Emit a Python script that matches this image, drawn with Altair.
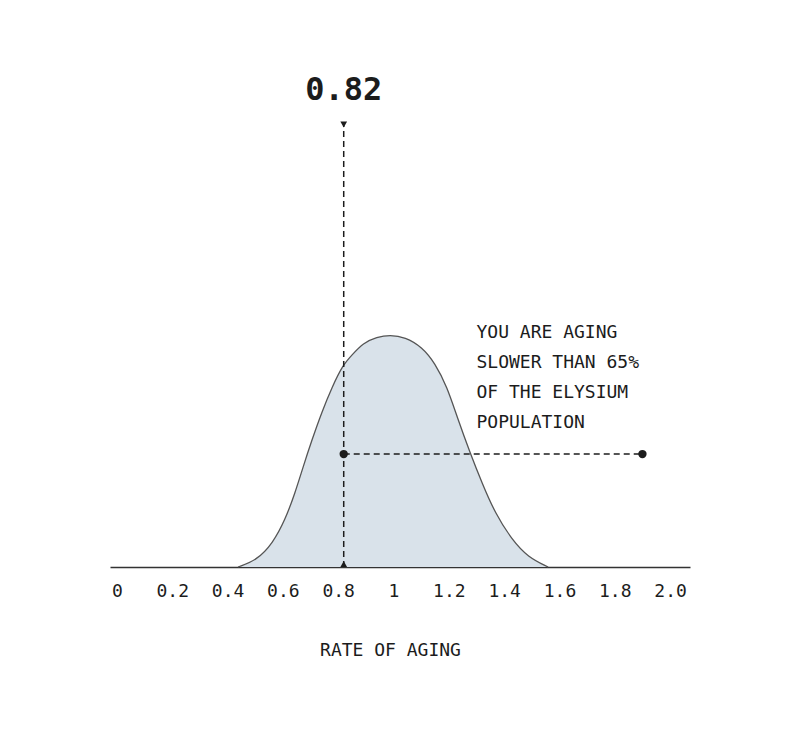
import altair as alt
import pandas as pd

# Distribution curve (rate of aging vs relative density)
curve_x = [0.438, 0.506, 0.564, 0.608, 0.644, 0.673, 0.705, 0.741, 0.778, 0.817, 0.850,
           0.890, 0.940, 0.987, 1.042, 1.103, 1.150, 1.194, 1.230, 1.277, 1.320, 1.367,
           1.429, 1.486, 1.559]
curve_y = [0.000, 0.030, 0.104, 0.204, 0.321, 0.434, 0.551, 0.673, 0.781, 0.877, 0.920,
           0.972, 0.998, 1.007, 0.998, 0.955, 0.885, 0.781, 0.651, 0.495, 0.365, 0.234,
           0.117, 0.043, 0.000]

# Tick values
tick_values = [0, 0.2, 0.4, 0.6, 0.8, 1.0, 1.2, 1.4, 1.6, 1.8, 2.0]

# Marker / annotation values
user_rate = 0.82
user_label = "0.82"
marker_top = 1.92
percentile_level = 0.49
percentile_end = 1.90
label_level = 2.07
note_x = 1.30
note_level = 1.015
note_lines = ["YOU ARE AGING", "SLOWER THAN 65%", "OF THE ELYSIUM", "POPULATION"]
x_title = "RATE OF AGING"

FONT = "DejaVu Sans Mono"
INK = "#1c1c1c"

curve = pd.DataFrame({"x": curve_x, "y": curve_y})

xscale = alt.Scale(domain=[-0.025, 2.072], nice=False, zero=False)
yscale = alt.Scale(domain=[0, 2.2], nice=False)

xaxis = alt.Axis(
    values=tick_values,
    labelExpr="datum.value == 0 ? '0' : datum.value == 1 ? '1' : format(datum.value, '.1f')",
    ticks=False, grid=False,
    domain=True, domainColor="#333333", domainWidth=1.6,
    labelFont=FONT, labelFontSize=18, labelColor=INK, labelPadding=15,
    labelFlush=False, labelOverlap=False,
    title=x_title, titleFont=FONT, titleFontSize=18, titleFontWeight="normal",
    titleColor=INK, titlePadding=41, titleX=280, titleAnchor="start", titleAlign="center",
)

area = alt.Chart(curve).mark_area(
    color="#d9e2ea", opacity=1, fillOpacity=1, interpolate="basis",
    line={"color": "#555555", "strokeWidth": 1.3},
).encode(
    x=alt.X("x:Q", scale=xscale, axis=xaxis),
    y=alt.Y("y:Q", scale=yscale, axis=None),
)

mk = pd.DataFrame({"x": [user_rate], "y0": [0.0], "y1": [marker_top],
                   "yp": [percentile_level], "x2": [percentile_end],
                   "yl": [label_level], "lab": [user_label]})

vrule = alt.Chart(mk).mark_rule(color=INK, strokeWidth=1.5, strokeDash=[6, 4]).encode(
    x=alt.X("x:Q", scale=xscale), y=alt.Y("y0:Q", scale=yscale), y2="y1:Q")

hrule = alt.Chart(mk).mark_rule(color=INK, strokeWidth=1.5, strokeDash=[6, 4]).encode(
    x=alt.X("x:Q", scale=xscale), x2="x2:Q", y=alt.Y("yp:Q", scale=yscale))

tri_top = alt.Chart(mk).mark_point(shape="triangle-down", filled=True, color=INK,
                                   size=45, opacity=1).encode(
    x=alt.X("x:Q", scale=xscale), y=alt.Y("y1:Q", scale=yscale))

tri_bot = alt.Chart(mk).mark_point(shape="triangle-up", filled=True, color=INK,
                                   size=45, opacity=1, yOffset=-3).encode(
    x=alt.X("x:Q", scale=xscale), y=alt.Y("y0:Q", scale=yscale))

dots = pd.DataFrame({"x": [user_rate, percentile_end], "y": [percentile_level, percentile_level]})
dot_layer = alt.Chart(dots).mark_circle(color=INK, size=70, opacity=1).encode(
    x=alt.X("x:Q", scale=xscale), y=alt.Y("y:Q", scale=yscale))

big_label = alt.Chart(mk).mark_text(font=FONT, fontSize=32, fontWeight="bold", color=INK,
                                    align="center", baseline="middle").encode(
    x=alt.X("x:Q", scale=xscale), y=alt.Y("yl:Q", scale=yscale), text="lab:N")

note = alt.Chart(pd.DataFrame({"x": [note_x], "y": [note_level]})).mark_text(
    font=FONT, fontSize=18, color=INK, align="left", baseline="middle", lineHeight=30,
).encode(
    x=alt.X("x:Q", scale=xscale), y=alt.Y("y:Q", scale=yscale),
    text=alt.value(note_lines))

chart = alt.layer(area, vrule, hrule, tri_top, tri_bot, dot_layer, big_label, note).properties(
    width=580, height=507,
    autosize=alt.AutoSizeParams(type="none"),
    padding={"left": 102, "top": 52, "right": 10, "bottom": 150},
    background="white",
).configure_view(stroke=None)

chart.save("out.html", embed_options={"renderer": "svg", "actions": False})
